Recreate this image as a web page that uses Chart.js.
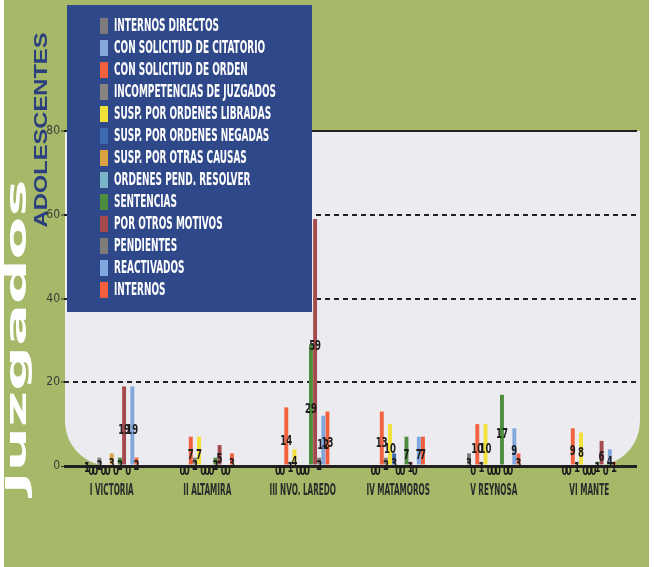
<!DOCTYPE html>
<html>
<head>
<meta charset="utf-8">
<script src="https://cdn.jsdelivr.net/npm/chart.js@4.4.0/dist/chart.umd.min.js"></script>
<style>
  html, body { margin: 0; padding: 0; background: #fff; }
  #caja { width: 654px; height: 567px; }
</style>
</head>
<body>
<div id="caja"><canvas id="juzgados" width="654" height="567"></canvas></div>
<script>
/* datos */
const categorias = ['I VICTORIA', 'II ALTAMIRA', 'III NVO. LAREDO', 'IV MATAMOROS', 'V REYNOSA', 'VI MANTE'];
const marcasY = [0, 20, 40, 60, 80];

const internosDirectos      = [1, 0, 0, 0, 3, 0];
const conSolicitudCitatorio = [0, 0, 0, 0, 0, 0];
const conSolicitudOrden     = [0, 7, 14, 13, 10, 9];
const incompetencias        = [2, 2, 1, 2, 1, 1];
const suspLibradas          = [0, 7, 4, 10, 10, 8];
const suspNegadas           = [0, 0, 0, 3, 0, 0];
const suspOtrasCausas       = [3, 0, 0, 0, 0, 0];
const ordenesPendientes     = [0, 0, 0, 0, 0, 0];
const sentencias            = [2, 2, 29, 7, 17, 1];
const porOtrosMotivos       = [19, 5, 59, 1, 0, 6];
const pendientes            = [0, 0, 2, 0, 0, 0];
const reactivados           = [19, 0, 12, 7, 9, 4];
const internos              = [2, 3, 13, 7, 3, 1];

const series = [
  ['INTERNOS DIRECTOS', internosDirectos],
  ['CON SOLICITUD DE CITATORIO', conSolicitudCitatorio],
  ['CON SOLICITUD DE ORDEN', conSolicitudOrden],
  ['INCOMPETENCIAS DE JUZGADOS', incompetencias],
  ['SUSP. POR ORDENES LIBRADAS', suspLibradas],
  ['SUSP. POR ORDENES NEGADAS', suspNegadas],
  ['SUSP. POR OTRAS CAUSAS', suspOtrasCausas],
  ['ORDENES PEND. RESOLVER', ordenesPendientes],
  ['SENTENCIAS', sentencias],
  ['POR OTROS MOTIVOS', porOtrosMotivos],
  ['PENDIENTES', pendientes],
  ['REACTIVADOS', reactivados],
  ['INTERNOS', internos]
];
const colores = ['#7c7a7a', '#84a8dc', '#f2623f', '#8a8581', '#f0e23a', '#3e6bb4', '#dba443',
                 '#7ab6c9', '#4c8e3e', '#a54b4d', '#807a78', '#80a7de', '#f45e3a'];

const fuenteAngosta = '"Liberation Sans Narrow", "DejaVu Sans Condensed", sans-serif';

// texto comprimido a lo ancho (las letras del original son muy condensadas)
function textoComprimido(ctx, txt, x, y, sx) {
  ctx.save();
  ctx.translate(x, y);
  ctx.scale(sx, 1);
  ctx.fillText(txt, 0, 0);
  ctx.restore();
}

/* fondo verde y zona blanca con esquinas redondeadas */
const fondo = {
  id: 'fondo',
  beforeDraw(chart) {
    const ctx = chart.ctx;
    const y = chart.scales.y;
    const a = chart.chartArea;
    ctx.save();
    ctx.fillStyle = '#ffffff';
    ctx.fillRect(0, 0, chart.width, chart.height);
    ctx.fillStyle = '#a6b968';
    ctx.fillRect(4, 0, chart.width - 9, chart.height);
    const izq = a.left + 1, der = a.right + 3;
    const arriba = y.getPixelForValue(80), abajo = y.getPixelForValue(0);
    const r = 45;
    ctx.beginPath();
    ctx.moveTo(izq, arriba);
    ctx.lineTo(der, arriba);
    ctx.lineTo(der, abajo - r);
    ctx.arcTo(der, abajo, der - r, abajo, r);
    ctx.lineTo(izq + r, abajo);
    ctx.arcTo(izq, abajo, izq, abajo - r, r);
    ctx.closePath();
    ctx.fillStyle = '#ecebf0';
    ctx.fill();
    ctx.restore();
  }
};

/* numeros sobre cada barra */
const etiquetas = {
  id: 'etiquetas',
  afterDatasetsDraw(chart) {
    const ctx = chart.ctx;
    ctx.save();
    ctx.font = 'bold 14px ' + fuenteAngosta;
    ctx.fillStyle = '#1c1c1c';
    ctx.textAlign = 'center';
    ctx.textBaseline = 'middle';
    chart.data.datasets.forEach((ds, i) => {
      chart.getDatasetMeta(i).data.forEach((barra, j) => {
        const yc = (barra.y + barra.base) / 2 + 5;
        textoComprimido(ctx, String(ds.data[j]), barra.x, yc, 0.68);
      });
    });
    ctx.restore();
  }
};

/* leyenda azul, nombres de regiones y titulos del eje */
const adornos = {
  id: 'adornos',
  afterDraw(chart) {
    const ctx = chart.ctx;
    const x = chart.scales.x;
    ctx.save();

    // categorias
    ctx.font = 'bold 16px ' + fuenteAngosta;
    ctx.fillStyle = '#2b2b2b';
    ctx.textAlign = 'center';
    ctx.textBaseline = 'middle';
    const sxCat = 44 / ctx.measureText(categorias[0]).width;
    categorias.forEach((c, i) => textoComprimido(ctx, c, x.getPixelForValue(i), 491, sxCat));

    // leyenda
    ctx.fillStyle = '#2f488a';
    ctx.fillRect(67, 5, 245, 307);
    ctx.font = 'bold 17px ' + fuenteAngosta;
    ctx.textAlign = 'left';
    const sxLey = 162 / ctx.measureText('INCOMPETENCIAS DE JUZGADOS').width;
    chart.data.datasets.forEach((ds, i) => {
      const yy = 26 + i * 22;
      ctx.fillStyle = ds.backgroundColor;
      ctx.fillRect(100, yy - 8, 8, 16);
      ctx.fillStyle = '#ffffff';
      textoComprimido(ctx, ds.label, 114, yy + 1, sxLey);
    });

    // titulos verticales
    ctx.textAlign = 'center';
    ctx.textBaseline = 'alphabetic';
    ctx.save();
    ctx.translate(26, 337);
    ctx.rotate(-Math.PI / 2);
    ctx.font = 'bold 29px "DejaVu Sans", sans-serif';
    ctx.fillStyle = '#ffffff';
    const sxJ = 315 / ctx.measureText('Juzgados').width;
    textoComprimido(ctx, 'Juzgados', 0, 0, sxJ);
    ctx.restore();

    ctx.save();
    ctx.translate(47, 130);
    ctx.rotate(-Math.PI / 2);
    ctx.font = 'bold 19px "Liberation Sans", sans-serif';
    ctx.fillStyle = '#2b3f7e';
    const sxA = 195 / ctx.measureText('ADOLESCENTES').width;
    textoComprimido(ctx, 'ADOLESCENTES', 0, 0, sxA);
    ctx.restore();

    ctx.restore();
  }
};

new Chart(document.getElementById('juzgados').getContext('2d'), {
  type: 'bar',
  data: {
    labels: categorias,
    datasets: series.map((s, i) => ({
      label: s[0],
      data: s[1],
      backgroundColor: colores[i],
      borderWidth: 0,
      barPercentage: 0.95,
      categoryPercentage: 0.56
    }))
  },
  options: {
    responsive: false,
    animation: false,
    devicePixelRatio: 1,
    layout: { padding: { left: 40, right: 17, top: 131, bottom: 0 } },
    plugins: { legend: { display: false }, tooltip: { enabled: false } },
    scales: {
      x: {
        grid: { display: false },
        border: { display: false },
        ticks: { display: false },
        afterFit(s) { s.height = 101; }
      },
      y: {
        min: 0,
        max: 80,
        afterBuildTicks(s) { s.ticks = marcasY.map(v => ({ value: v })); },
        afterFit(s) { s.width = 24; },
        border: {
          display: false,
          dash: c => (c.tick && c.tick.value % 80 !== 0) ? [5, 4] : []
        },
        grid: {
          color: '#222222',
          lineWidth: c => (c.tick && c.tick.value === 0) ? 3 : 2,
          tickLength: 3,
          tickColor: '#333333',
          tickWidth: 1
        },
        ticks: {
          padding: 1,
          color: '#3a3a3a',
          font: { family: fuenteAngosta, size: 12 }
        }
      }
    }
  },
  plugins: [fondo, etiquetas, adornos]
});
</script>
</body>
</html>
